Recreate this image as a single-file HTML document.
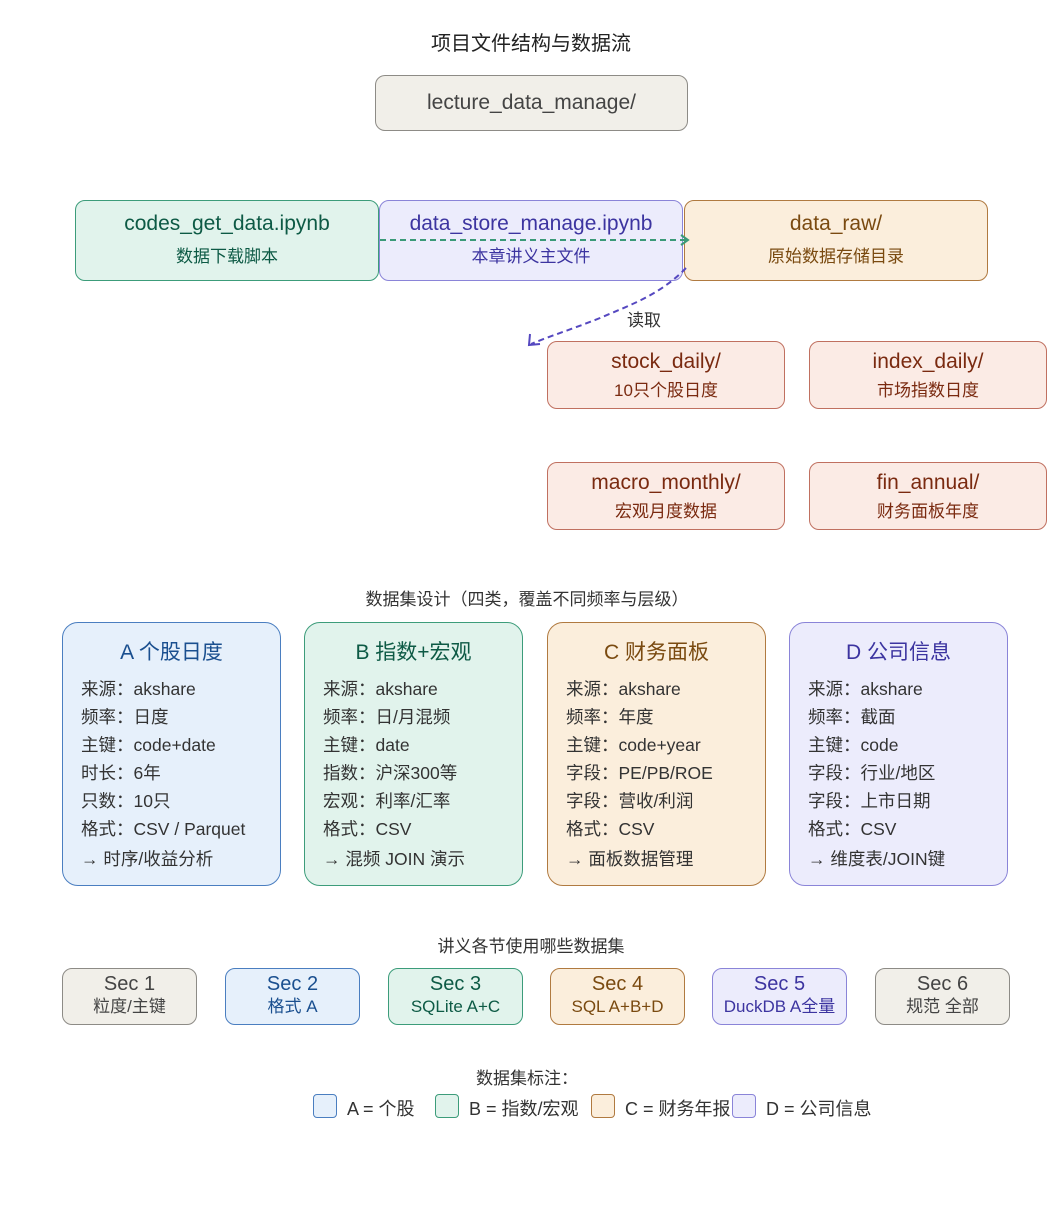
<!DOCTYPE html>
<html><head><meta charset="utf-8"><style>
body{margin:0;width:1063px;height:1219px;background:#fff;position:relative;font-family:"Liberation Sans","Noto Sans CJK SC",sans-serif;overflow:hidden}
.b{position:absolute;box-sizing:border-box;border:1px solid;border-radius:10px;text-align:center}
.t{position:absolute;white-space:nowrap;transform:translateX(-50%)}
.gray{background:#f1efe9;border-color:#8d8b86;color:#444}
.green{background:#e1f3ec;border-color:#3c9c7a;color:#0d5a45}
.purple{background:#ececfc;border-color:#8a84d8;color:#3c34a0}
.orange{background:#fbeedc;border-color:#b07a40;color:#7a4a10}
.red{background:#fbebe5;border-color:#c07060;color:#7a2a10}
.blue{background:#e6f0fb;border-color:#4a7ec0;color:#1a4f8f}
.n1{font-size:21px;margin-top:11px}
.n2{font-size:17px;margin-top:6px}
.card{top:622px;width:219px;height:264px;border-radius:16px;text-align:left}
.card h3{margin:13px 0 9px;text-align:center;font-weight:normal;font-size:21px}
.card div{font-size:17.5px;line-height:28px;padding-left:18px;color:#333}
.card div.l{margin-top:2px}
.sec{top:968px;width:135px;height:57px;font-size:20px;line-height:22px;padding-top:4px}
.sec span{font-size:17px}
.sq{position:absolute;top:1094px;width:24px;height:24px;border:1px solid;border-radius:4px;box-sizing:border-box}
.lg{position:absolute;top:1095px;font-size:18px;color:#333;white-space:nowrap}
</style></head><body>
<div class="t" style="left:531px;top:27px;font-size:20px;color:#222">项目文件结构与数据流</div>
<div class="b gray" style="left:375px;top:75px;width:313px;height:56px;font-size:21px;line-height:54px">lecture_data_manage/</div>

<div class="b green" style="left:75px;top:200px;width:304px;height:81px"><div class="n1">codes_get_data.ipynb</div><div class="n2">数据下载脚本</div></div>
<div class="b purple" style="left:379px;top:200px;width:304px;height:81px"><div class="n1">data_store_manage.ipynb</div><div class="n2">本章讲义主文件</div></div>
<div class="b orange" style="left:684px;top:200px;width:304px;height:81px"><div class="n1">data_raw/</div><div class="n2">原始数据存储目录</div></div>

<div class="b red" style="left:547px;top:341px;width:238px;height:68px"><div class="n1" style="margin-top:8px">stock_daily/</div><div class="n2" style="margin-top:2px">10只个股日度</div></div>
<div class="b red" style="left:809px;top:341px;width:238px;height:68px"><div class="n1" style="margin-top:8px">index_daily/</div><div class="n2" style="margin-top:2px">市场指数日度</div></div>
<div class="b red" style="left:547px;top:462px;width:238px;height:68px"><div class="n1" style="margin-top:8px">macro_monthly/</div><div class="n2" style="margin-top:2px">宏观月度数据</div></div>
<div class="b red" style="left:809px;top:462px;width:238px;height:68px"><div class="n1" style="margin-top:8px">fin_annual/</div><div class="n2" style="margin-top:2px">财务面板年度</div></div>

<svg style="position:absolute;left:0;top:0" width="1063" height="1219">
<line x1="380" y1="240" x2="687" y2="240" stroke="#3a9a78" stroke-width="2" stroke-dasharray="6,4"/>
<polyline points="681,235 688,240 681,245" fill="none" stroke="#3a9a78" stroke-width="2"/>
<path d="M686,268 C660,295 630,305 600,318 C570,330 550,336 531,344" fill="none" stroke="#5548c0" stroke-width="2" stroke-dasharray="6,4"/>
<polyline points="530,334 529,345 540,344" fill="none" stroke="#5548c0" stroke-width="2"/>
</svg>
<div class="t" style="left:644px;top:306px;font-size:17px;color:#333">读取</div>

<div class="t" style="left:527px;top:585px;font-size:17px;color:#333">数据集设计（四类，覆盖不同频率与层级）</div>

<div class="b card blue" style="left:62px"><h3>A 个股日度</h3><div>来源：akshare</div><div>频率：日度</div><div>主键：code+date</div><div>时长：6年</div><div>只数：10只</div><div>格式：CSV / Parquet</div><div class="l">→ 时序/收益分析</div></div>
<div class="b card green" style="left:304px"><h3>B 指数+宏观</h3><div>来源：akshare</div><div>频率：日/月混频</div><div>主键：date</div><div>指数：沪深300等</div><div>宏观：利率/汇率</div><div>格式：CSV</div><div class="l">→ 混频 JOIN 演示</div></div>
<div class="b card orange" style="left:547px"><h3>C 财务面板</h3><div>来源：akshare</div><div>频率：年度</div><div>主键：code+year</div><div>字段：PE/PB/ROE</div><div>字段：营收/利润</div><div>格式：CSV</div><div class="l">→ 面板数据管理</div></div>
<div class="b card purple" style="left:789px"><h3>D 公司信息</h3><div>来源：akshare</div><div>频率：截面</div><div>主键：code</div><div>字段：行业/地区</div><div>字段：上市日期</div><div>格式：CSV</div><div class="l">→ 维度表/JOIN键</div></div>

<div class="t" style="left:531px;top:932px;font-size:17px;color:#333">讲义各节使用哪些数据集</div>
<div class="b sec gray" style="left:62px">Sec 1<br><span>粒度/主键</span></div>
<div class="b sec blue" style="left:225px">Sec 2<br><span>格式 A</span></div>
<div class="b sec green" style="left:388px">Sec 3<br><span>SQLite A+C</span></div>
<div class="b sec orange" style="left:550px">Sec 4<br><span>SQL A+B+D</span></div>
<div class="b sec purple" style="left:712px">Sec 5<br><span>DuckDB A全量</span></div>
<div class="b sec gray" style="left:875px">Sec 6<br><span>规范 全部</span></div>

<div class="t" style="left:527px;top:1064px;font-size:17px;color:#333">数据集标注：</div>
<div class="sq" style="left:313px;background:#e6f0fb;border-color:#4a7ec0"></div><div class="lg" style="left:347px">A = 个股</div>
<div class="sq" style="left:435px;background:#e1f3ec;border-color:#3c9c7a"></div><div class="lg" style="left:469px">B = 指数/宏观</div>
<div class="sq" style="left:591px;background:#fbeedc;border-color:#b07a40"></div><div class="lg" style="left:625px">C = 财务年报</div>
<div class="sq" style="left:732px;background:#ececfc;border-color:#8a84d8"></div><div class="lg" style="left:766px">D = 公司信息</div>
</body></html>
